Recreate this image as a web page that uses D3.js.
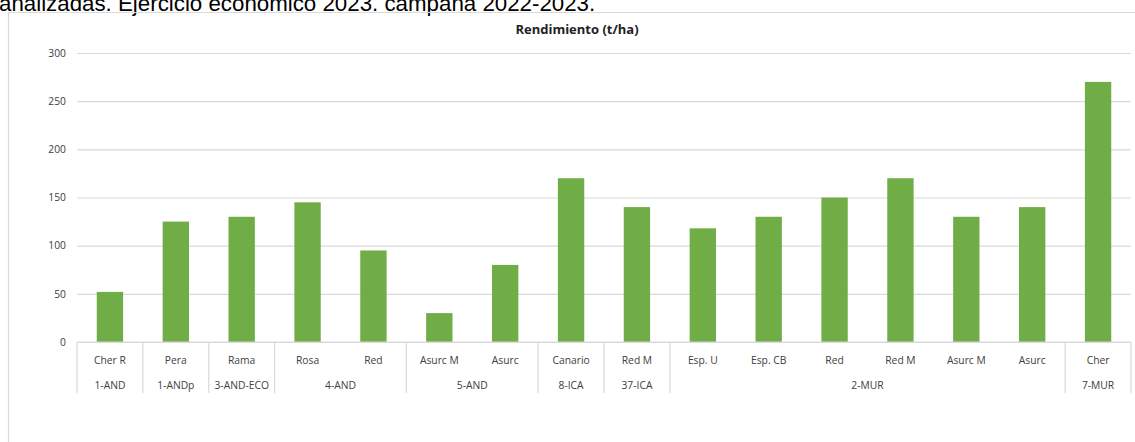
<!DOCTYPE html>
<html>
<head>
<meta charset="utf-8">
<script src="https://cdn.jsdelivr.net/npm/d3@7"></script>
<style>
  body { margin: 0; background: #fff; overflow: hidden; }
  svg { display: block; }
</style>
</head>
<body>
<div id="chart"></div>
<script>
const categories = ['Cher R', 'Pera', 'Rama', 'Rosa', 'Red', 'Asurc M', 'Asurc', 'Canario', 'Red M',
  'Esp. U', 'Esp. CB', 'Red', 'Red M', 'Asurc M', 'Asurc', 'Cher'];
const rendimiento = [52, 125, 130, 145, 95, 30, 80, 170, 140, 118, 130, 150, 170, 130, 140, 270];
// group label and how many categories it covers
const groups = ['1-AND', '1-ANDp', '3-AND-ECO', '4-AND', '5-AND', '8-ICA', '37-ICA', '2-MUR', '7-MUR'];
const groupSizes = [1, 1, 1, 2, 2, 1, 1, 6, 1];
const yTicks = [0, 50, 100, 150, 200, 250, 300];

const W = 1135, H = 442;
const margin = { top: 53, right: 4, bottom: 100, left: 77 };
const width = W - margin.left - margin.right;
const height = H - margin.top - margin.bottom;

const svg = d3.select('#chart').append('svg')
  .attr('width', W)
  .attr('height', H);

// caption text from the document, cut off at the top
svg.append('text')
  .attr('x', -1)
  .attr('y', 11)
  .attr('font-family', 'Liberation Sans, Arial, sans-serif')
  .attr('font-size', '22.3px')
  .attr('fill', '#000')
  .text('analizadas. Ejercicio económico 2023. campaña 2022-2023.');

// chart area frame
svg.append('path')
  .attr('d', `M8.5,${H} V12.5 H${W}`)
  .attr('fill', 'none')
  .attr('stroke', '#d9d9d9')
  .attr('stroke-width', 1.2);

svg.append('text')
  .attr('x', 577)
  .attr('y', 34)
  .attr('text-anchor', 'middle')
  .attr('font-family', 'Open Sans, sans-serif')
  .attr('font-size', '13px')
  .attr('font-weight', 'bold')
  .attr('fill', '#222')
  .text('Rendimiento (t/ha)');

const g = svg.append('g')
  .attr('transform', `translate(${margin.left},${margin.top})`);

const x = d3.scaleBand()
  .domain(d3.range(categories.length))
  .range([0, width])
  .paddingInner(0.6)
  .paddingOuter(0.3);

const y = d3.scaleLinear().domain([0, 300]).range([height, 0]);

// Gridlines
g.append('g')
  .call(d3.axisLeft(y).tickValues(yTicks).tickSize(-width).tickFormat(''))
  .call(s => s.select('.domain').remove())
  .call(s => s.selectAll('line').attr('stroke', '#d9d9d9').attr('stroke-width', 1.2));

// Y labels
g.append('g')
  .call(d3.axisLeft(y).tickValues(yTicks).tickSize(0).tickPadding(11))
  .call(s => s.select('.domain').remove())
  .call(s => s.selectAll('text')
    .attr('font-family', 'Open Sans, sans-serif')
    .attr('font-size', '10.3px')
    .attr('fill', '#404040'));

// Bars
g.selectAll('.bar')
  .data(rendimiento)
  .join('rect')
  .attr('class', 'bar')
  .attr('x', (d, i) => x(i))
  .attr('y', d => y(d))
  .attr('width', x.bandwidth())
  .attr('height', d => y(0) - y(d))
  .attr('fill', '#70ad47');

// Category axis (two rows)
const step = x.step();
const cx = i => x(i) + x.bandwidth() / 2;

g.selectAll('.cat')
  .data(categories)
  .join('text')
  .attr('x', (d, i) => cx(i))
  .attr('y', height + 22)
  .attr('text-anchor', 'middle')
  .attr('font-family', 'Open Sans, sans-serif')
  .attr('font-size', '10.3px')
  .attr('fill', '#404040')
  .text(d => d);

const starts = groupSizes.map((n, i) => d3.sum(groupSizes.slice(0, i)));

g.selectAll('.grp')
  .data(groups)
  .join('text')
  .attr('x', (d, i) => (starts[i] + groupSizes[i] / 2) * step)
  .attr('y', height + 47)
  .attr('text-anchor', 'middle')
  .attr('font-family', 'Open Sans, sans-serif')
  .attr('font-size', '10.3px')
  .attr('fill', '#404040')
  .text(d => d);

// separators at group edges
const edges = starts.concat([categories.length]);
g.selectAll('.sep')
  .data(edges)
  .join('line')
  .attr('x1', d => d * step)
  .attr('x2', d => d * step)
  .attr('y1', height)
  .attr('y2', height + 51)
  .attr('stroke', '#d9d9d9')
  .attr('stroke-width', 1.2);

// baseline
g.append('line')
  .attr('x1', 0).attr('x2', width)
  .attr('y1', height).attr('y2', height)
  .attr('stroke', '#d9d9d9')
  .attr('stroke-width', 1.2);
</script>
</body>
</html>
